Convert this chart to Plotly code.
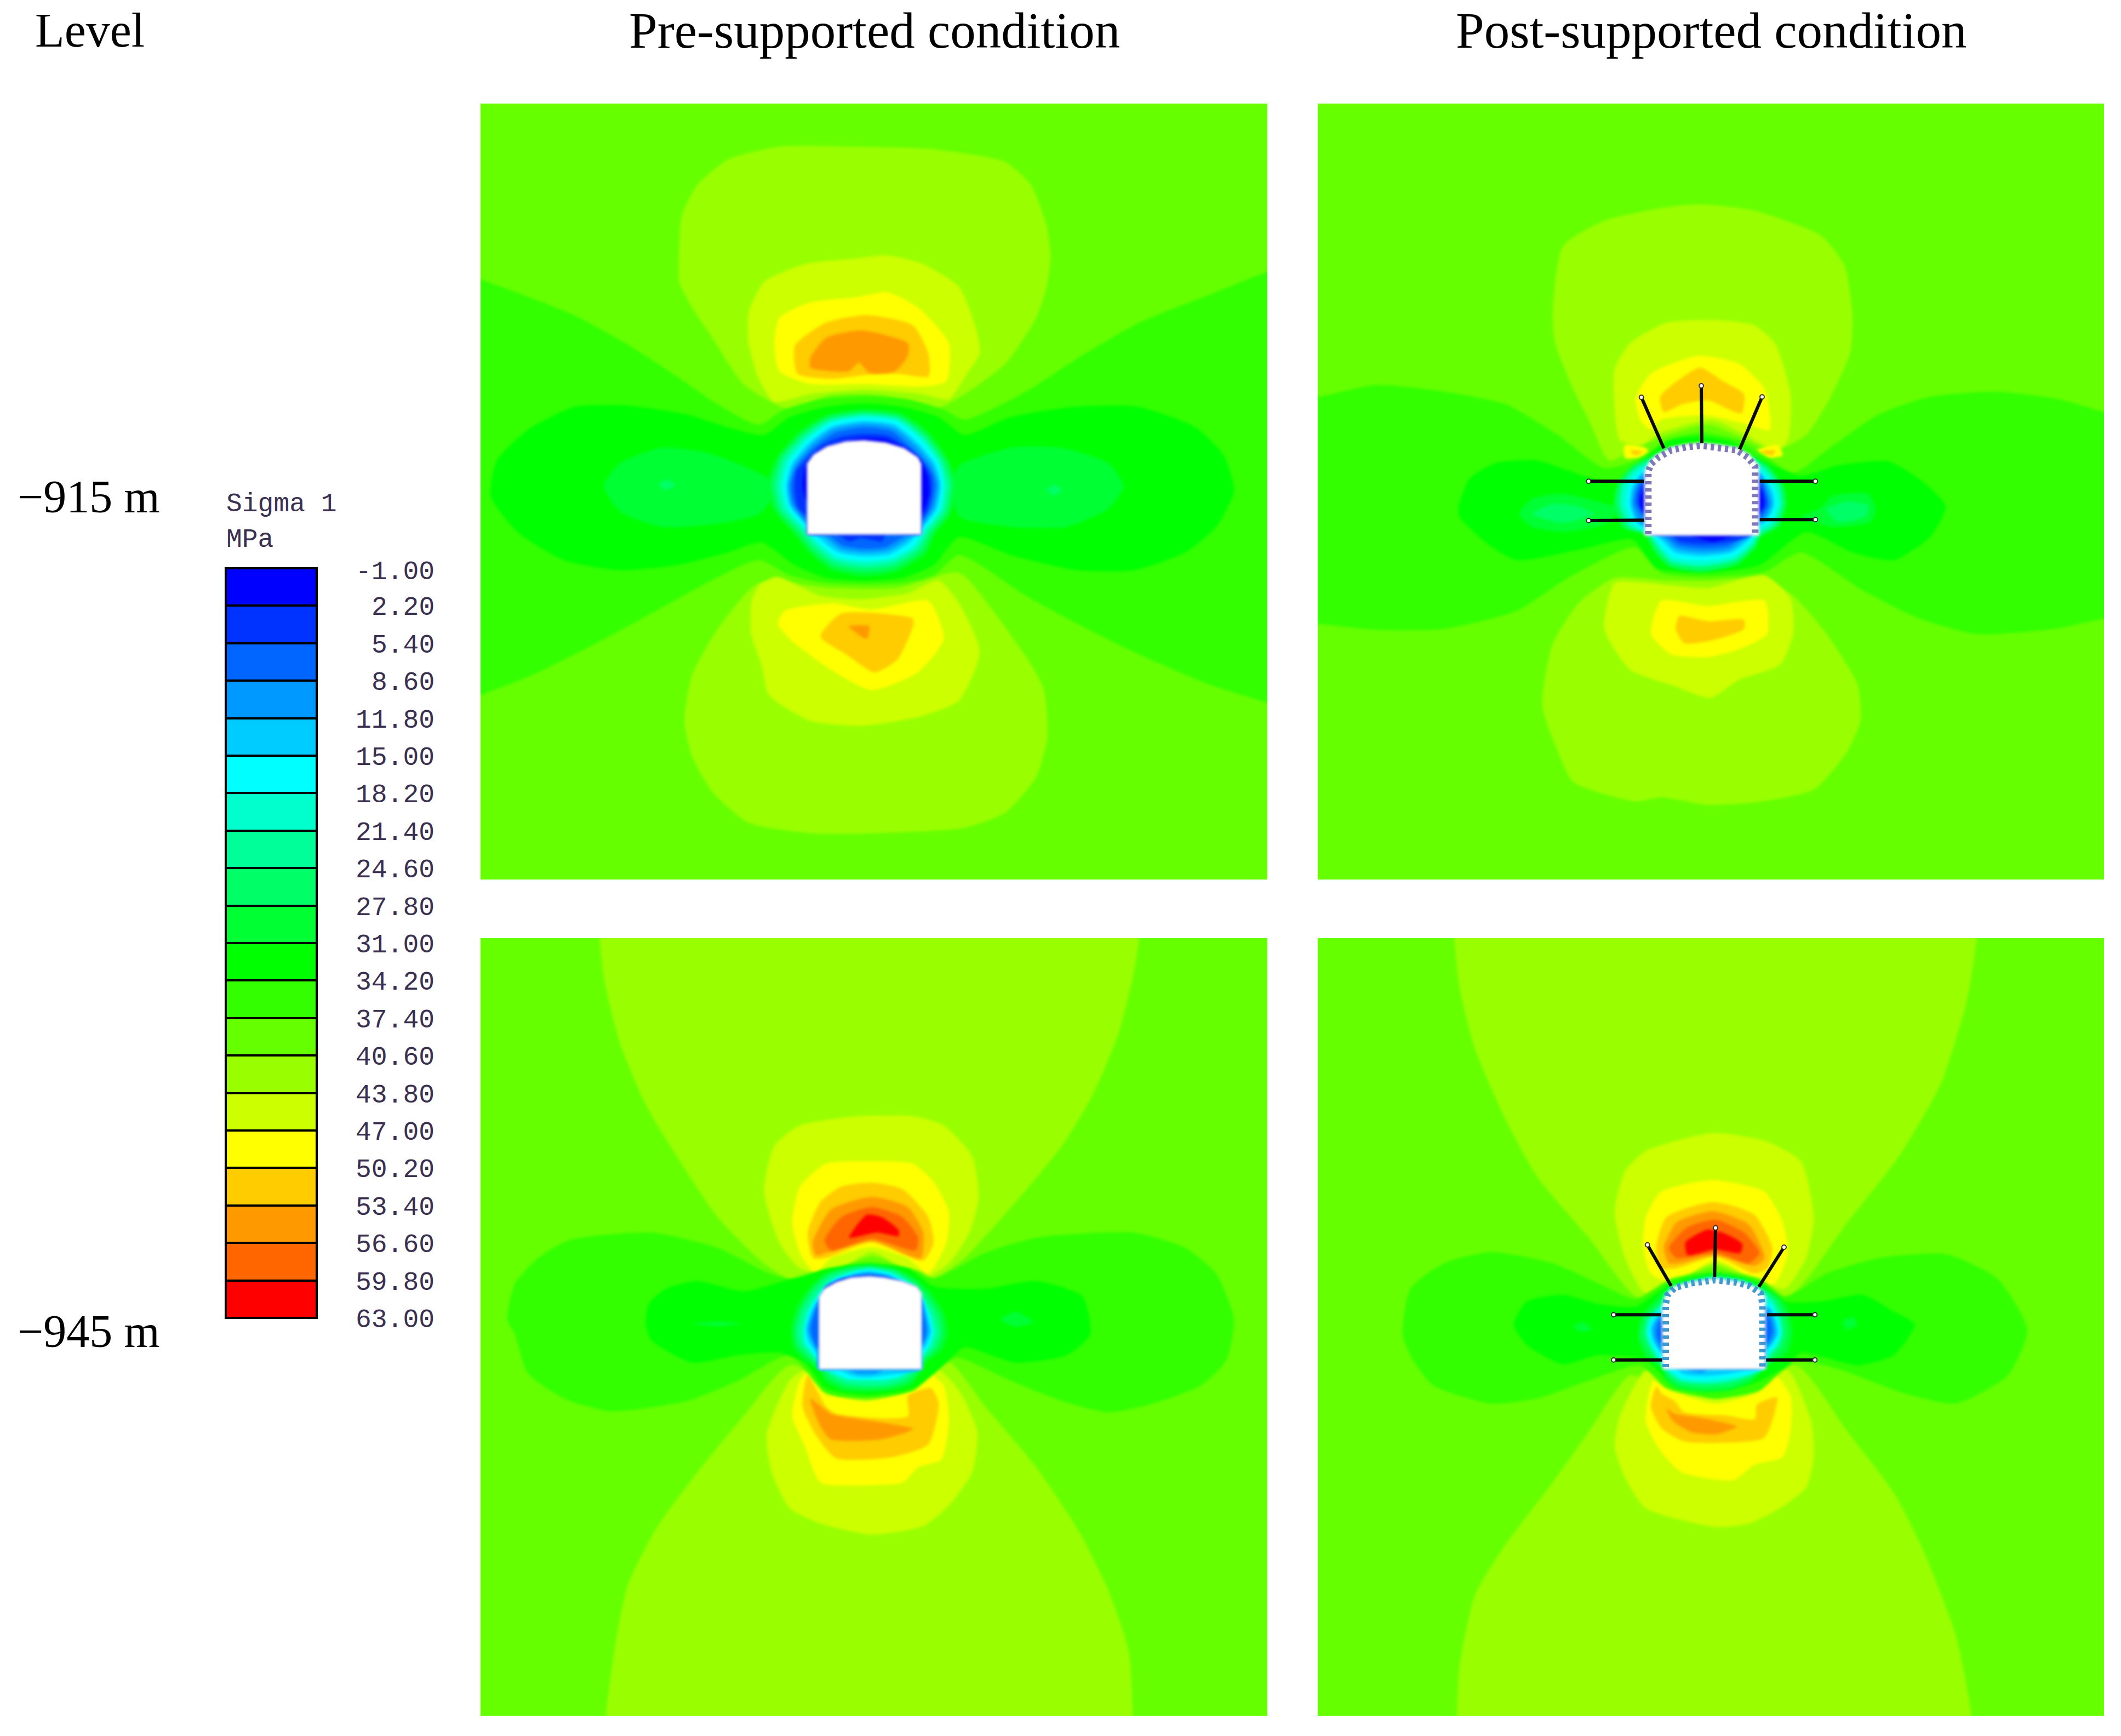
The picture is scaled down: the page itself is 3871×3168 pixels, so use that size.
import plotly.graph_objects as go

W, H = 3871, 3168

# ---- colour scale -----------------------------------------------------------
LEVELS = [-1.0, 2.2, 5.4, 8.6, 11.8, 15.0, 18.2, 21.4, 24.6, 27.8, 31.0, 34.2, 37.4,
          40.6, 43.8, 47.0, 50.2, 53.4, 56.6, 59.8, 63.0]
LEVEL_LABELS = ["-1.00", "2.20", "5.40", "8.60", "11.80", "15.00", "18.20", "21.40", "24.60",
                "27.80", "31.00", "34.20", "37.40", "40.60", "43.80", "47.00", "50.20",
                "53.40", "56.60", "59.80", "63.00"]
BAND_COLORS = ["#0000ff", "#0033ff", "#0066ff", "#0099ff", "#00ccff", "#00ffff", "#00ffcc",
               "#00ff99", "#00ff66", "#00ff33", "#00ff00", "#33ff00", "#66ff00", "#99ff00",
               "#ccff00", "#ffff00", "#ffcc00", "#ff9900", "#ff6600", "#ff0000"]
COLOR_OF = dict(zip(LEVELS[:-1], BAND_COLORS))

COLUMN_TITLES = ["Pre-supported condition", "Post-supported condition"]
ROW_TITLES = ["\u2212915 m", "\u2212945 m"]

# ---- sampling frames of the contour tracings: x0, y0, x-scale, y-scale -------
F1 = (860, 170, 1568 / 1470, 1568 / 1460)
F2 = (2390, 170, 1568 / 1480, 1568 / 1460)
F3 = (860, 1700, 1568 / 1470, 1568 / 1460)
F4 = (2390, 1700, 1568 / 1480, 1568 / 1460)
D1 = (1350, 680, 3, 3)
D2 = (2850, 680, 3, 3)
D3 = (1380, 2220, 3, 3)
D4 = (2900, 2200, 3, 3)

# ---- panel 1: -915 m, pre-supported ------------------------------------------
P1_FIELD = [
 (40.6, [(410,240),(440,180),(500,130),(600,105),(750,105),(900,110),(1040,135),(1090,180),(1120,260),(1128,320),(1120,380),(1100,440),(1040,530),(960,590),(900,620),(800,592),(700,592),(620,620),(530,570),(470,480),(430,420),(405,370),(405,300)]),
 (40.6, [(415,1230),(430,1140),(480,1050),(560,960),(700,970),(830,970),(950,940),(1020,1020),(1090,1120),(1115,1170),(1122,1260),(1100,1340),(1040,1410),(960,1440),(800,1450),(660,1450),(540,1430),(470,1370),(430,1300)]),
 (43.8, [(540,430),(570,370),(650,335),(740,325),(810,318),(880,335),(950,380),(985,470),(990,510),(965,550),(930,600),(880,590),(770,581),(660,590),(590,605),(560,560),(540,490)]),
 (43.8, [(545,1000),(560,965),(595,948),(680,985),(760,992),(850,980),(910,955),(950,1000),(990,1095),(950,1190),(880,1220),(760,1240),(660,1230),(580,1180),(565,1120),(545,1060)]),
 (47.0, [(590,490),(600,440),(660,410),(750,400),(810,390),(870,420),(930,490),(925,565),(880,575),(770,570),(660,570),(600,545)]),
 (47.0, [(597,1040),(610,1015),(700,1000),(780,1012),(890,995),(920,1070),(870,1135),(780,1170),(700,1130),(620,1070)]),
 (50.2, [(630,495),(690,450),(770,435),(860,455),(890,510),(890,555),(830,550),(770,552),(700,560),(635,550)]),
 (50.2, [(680,1065),(720,1020),(860,1030),(860,1045),(830,1110),(785,1135),(730,1100)]),
 (53.4, [(660,520),(690,480),(760,465),(850,490),(850,515),(825,545),(775,548),(755,528),(735,545),(700,545),(660,538)]),
 (53.4, [(735,1045),(775,1045),(770,1070)]),
 (34.2, [(-40,345),(18,365),(100,395),(200,435),(300,490),(400,555),(480,610),(560,650),(610,620),(680,600),(765,594),(850,600),(920,620),(960,640),(1080,585),(1180,520),(1300,450),(1450,390),(1550,350),(1600,335),(1600,1215),(1550,1195),(1440,1160),(1300,1100),(1180,1040),(1080,985),(950,905),(900,945),(840,960),(765,963),(690,960),(620,945),(560,915),(440,970),(350,1020),(240,1080),(120,1140),(18,1180),(-40,1205)]),
 (31.0, [(38,790),(50,720),(110,660),(200,615),(300,612),(420,630),(500,655),(570,670),(620,635),(690,615),(765,608),(840,615),(910,635),(960,670),(1050,635),(1170,615),(1300,615),(1410,655),(1465,710),(1485,780),(1450,850),(1390,900),(1290,935),(1180,935),(1050,905),(950,870),(900,925),(840,950),(765,956),(690,950),(630,925),(565,880),(500,900),(400,925),(290,935),(180,915),(90,860)]),
 (27.8, [(258,770),(290,725),(370,695),(460,705),(540,735),(600,770),(560,825),(470,845),(370,850),(290,820)]),
 (27.8, [(1270,770),(1240,725),(1150,695),(1050,695),(950,730),(935,770),(950,830),(1050,850),(1160,850),(1240,815)]),
 (24.6, [(365,768),(380,758),(398,768),(380,778)]),
 (24.6, [(1120,778),(1135,768),(1150,778),(1135,788)]),
]
P1_RINGS = [
 (27.8, [(680,200),(880,220),(1035,325),(1140,470),(1190,610),(1155,775),(1070,885),(1020,990),(860,1090),(680,1115),(500,1080),(380,985),(300,885),(190,760),(150,620),(205,460),(335,315),(480,230)]),
 (24.6, [(680,215),(875,235),(1020,335),(1125,475),(1170,610),(1140,768),(1055,878),(1003,978),(852,1070),(680,1092),(508,1060),(392,970),(315,875),(208,755),(172,620),(220,465),(345,328),(485,242)]),
 (21.4, [(680,225),(870,245),(1010,345),(1110,480),(1150,610),(1125,760),(1040,870),(985,965),(845,1050),(680,1070),(515,1040),(405,955),(330,865),(225,750),(195,620),(235,470),(355,340),(490,255)]),
 (18.2, [(680,235),(865,255),(1000,355),(1097,485),(1132,610),(1110,755),(1025,865),(968,958),(838,1032),(680,1050),(522,1022),(418,942),(345,858),(245,745),(215,620),(252,480),(365,352),(495,265)]),
 (15.0, [(680,245),(860,265),(990,365),(1085,490),(1115,610),(1095,750),(1010,860),(950,950),(830,1015),(680,1030),(530,1005),(430,930),(360,850),(265,740),(238,620),(270,490),(375,365),(500,275)]),
 (11.8, [(680,265),(850,285),(975,385),(1070,500),(1100,610),(1080,745),(1000,850),(930,930),(820,995),(680,1005),(540,985),(445,915),(370,840),(275,730),(255,620),(285,500),(385,380),(505,295)]),
 (8.6, [(680,280),(840,300),(965,400),(1055,510),(1088,610),(1065,740),(995,840),(915,915),(810,975),(680,985),(550,965),(460,895),(368,825),(285,725),(268,620),(298,510),(395,395),(510,310)]),
 (5.4, [(680,300),(830,320),(950,420),(1040,520),(1072,610),(1050,730),(993,825),(900,895),(800,955),(680,965),(560,945),(475,880),(368,810),(298,720),(280,620),(310,520),(400,415),(520,330)]),
 (2.2, [(680,335),(810,345),(930,420),(1000,490),(1048,570),(1050,660),(1030,750),(993,810),(993,885),(800,885),(780,925),(720,915),(660,905),(600,925),(540,890),(370,885),(370,790),(320,740),(300,640),(310,540),(370,470),(460,390),(560,350)]),
 (-1.0, [(680,358),(800,365),(910,415),(985,470),(1030,570),(1040,650),(1015,740),(993,770),(700,700),(370,700),(345,620),(360,520),(420,440),(540,385)]),
]
P1_OPENING = [(370,885),(993,885),(993,500),(975,465),(900,415),(800,385),(680,372),(580,378),(480,405),(405,450),(370,500)]

# ---- panel 2: -915 m, post-supported -----------------------------------------
P2_FIELD = [
 (40.6, [(470,430),(490,300),(570,250),(700,222),(760,218),(860,230),(990,280),(1035,340),(1050,440),(1045,510),(1005,600),(960,670),(900,700),(770,650),(640,690),(580,720),(540,640),(510,580),(475,490)]),
 (40.6, [(450,1200),(470,1080),(520,1000),(590,950),(690,955),(770,956),(870,950),(935,985),(1000,1060),(1060,1160),(1065,1230),(1040,1290),(975,1365),(860,1390),(770,1395),(680,1380),(630,1388),(510,1350),(480,1290)]),
 (43.8, [(590,540),(620,490),(690,450),(790,445),(860,455),(900,490),(930,590),(925,680),(905,700),(880,690),(780,641),(680,665),(640,690),(600,680),(590,620)]),
 (43.8, [(570,1050),(590,960),(650,960),(770,970),(880,945),(930,990),(935,1060),(910,1120),(830,1150),(775,1185),(700,1160),(620,1130)]),
 (47.0, [(630,600),(660,550),(750,515),(830,530),(880,580),(890,660),(850,650),(770,632),(680,640),(660,660),(640,640)]),
 (47.0, [(660,1060),(680,995),(770,1005),(880,995),(885,1060),(830,1090),(770,1105),(700,1100)]),
 (47.0, [(610,690),(650,695),(660,710),(610,715)]),
 (47.0, [(865,700),(905,690),(915,710),(870,715)]),
 (50.2, [(678,595),(710,565),(755,538),(800,565),(840,590),(835,628),(770,602),(720,610),(685,625)]),
 (50.2, [(708,1050),(715,1025),(770,1035),(840,1032),(840,1050),(780,1072),(725,1078)]),
 (50.2, [(620,700),(645,703),(630,710)]),
 (50.2, [(870,703),(900,700),(895,710)]),
 (34.2, [(-40,595),(16,595),(130,572),(260,585),(380,610),(480,670),(570,735),(630,720),(690,680),(760,665),(830,680),(880,710),(935,745),(1000,700),(1100,630),(1200,595),(1330,585),(1450,600),(1536,625),(1590,640),(1590,1025),(1536,1030),(1440,1050),(1290,1060),(1180,1030),(1070,975),(950,900),(880,938),(770,948),(680,940),(630,890),(500,950),(400,1015),(260,1050),(130,1052),(16,1040),(-40,1035)]),
 (31.0, [(288,810),(310,755),(360,725),(440,720),(530,750),(600,765),(664,702),(699,680),(757,673),(819,684),(844,702),(950,750),(1020,730),(1120,722),(1190,765),(1230,810),(1200,870),(1130,915),(1050,900),(960,860),(870,925),(760,940),(670,930),(625,875),(520,895),(400,915),(340,880),(290,830)]),
 (27.8, [(405,825),(430,795),(490,785),(555,800),(600,815),(570,845),(490,860),(430,850)]),
 (27.8, [(985,815),(1010,790),(1080,785),(1095,815),(1085,840),(1010,850),(950,830)]),
 (24.6, [(430,825),(470,805),(520,810),(550,825),(490,842)]),
 (24.6, [(1000,815),(1040,800),(1080,808),(1075,830),(1020,840)]),
]
P2_RINGS = [
 (24.6, [(765,400),(950,410),(1030,450),(1130,510),(1215,620),(1230,720),(1190,840),(1090,900),(1060,960),(960,1050),(765,1090),(590,1060),(510,980),(460,890),(340,850),(290,720),(310,600),(390,510),(490,460),(600,410)]),
 (18.2, [(765,410),(950,420),(1030,470),(1110,520),(1190,620),(1205,720),(1165,830),(1075,885),(1050,940),(950,1025),(765,1060),(600,1035),(530,960),(480,885),(370,840),(320,720),(335,610),(400,530),(490,480),(600,420)]),
 (15.0, [(765,420),(950,430),(1020,490),(1090,530),(1165,630),(1185,720),(1150,810),(1075,860),(1040,920),(940,1005),(765,1030),(610,1010),(540,945),(495,885),(400,830),(355,720),(365,620),(420,545),(490,500),(600,430)]),
 (11.8, [(1075,535),(1150,640),(1165,720),(1130,800),(1060,860),(1020,920),(930,985),(765,1005),(620,985),(555,925),(510,885),(410,820),(375,720),(385,630),(440,550),(700,500)]),
 (8.6, [(1075,545),(1135,650),(1150,720),(1120,790),(1060,845),(1010,905),(920,970),(765,985),(630,965),(570,915),(530,885),(420,810),(388,720),(398,640),(445,560),(700,520)]),
 (5.4, [(1075,560),(1120,660),(1135,720),(1105,780),(1060,830),(1000,890),(910,950),(765,962),(640,945),(580,900),(540,885),(445,790),(400,720),(410,650),(450,580),(700,540)]),
 (2.2, [(1075,590),(1110,660),(1120,720),(1090,770),(1060,810),(1045,885),(1020,900),(900,930),(765,938),(650,925),(600,890),(490,885),(450,770),(420,710),(425,650),(455,600),(700,560)]),
 (-1.0, [(1080,620),(1100,670),(1105,730),(1080,770),(1040,700)]),
 (-1.0, [(455,640),(430,690),(435,740),(455,770),(480,700)]),
 (-1.0, [(700,885),(830,925),(950,885)]),
]
P2_OPENING = [(455,890),(1080,890),(1080,510),(1030,450),(960,412),(860,395),(765,385),(680,393),(600,410),(520,450),(480,490),(455,540)]
P2_LINER = [(475,885),(475,540),(490,500),(530,465),(600,425),(680,408),(765,400),(860,410),(960,425),(1020,465),(1060,515),(1060,540),(1060,885)]
P2_BOLTS = [((437,135),(560,415)),((765,72),(768,385)),((1098,133),(975,420)),((148,595),(450,595)),((148,810),(450,808)),((1390,595),(1085,595)),((1390,805),(1085,805))]

# ---- panel 3: -945 m, pre-supported ------------------------------------------
P3_FIELD = [
 (40.6, [(250,-40),(250,13),(260,100),(290,220),(340,340),(400,440),(480,560),(570,650),(640,690),(780,636),(900,680),(960,640),(1060,530),(1150,420),(1210,320),(1260,200),(1290,80),(1300,13),(1300,-40)]),
 (40.6, [(262,1590),(262,1537),(280,1400),(305,1280),(360,1170),(440,1060),(530,950),(620,850),(770,900),(925,840),(1000,930),(1100,1050),(1180,1170),(1240,1290),(1280,1410),(1288,1537),(1288,1590)]),
 (43.8, [(570,510),(590,420),(640,380),(750,362),(860,362),(920,380),(975,440),(988,520),(970,590),(930,650),(880,680),(780,628),(700,670),(640,660),(600,610)]),
 (43.8, [(575,985),(620,880),(650,860),(700,910),(770,925),(860,900),(910,860),(950,900),(985,980),(975,1060),(930,1125),(880,1165),(780,1182),(680,1160),(620,1130),(585,1060)]),
 (47.0, [(625,570),(640,500),(690,455),(780,450),(860,455),(900,490),(930,550),(925,610),(890,670),(850,640),(780,619),(700,640),(670,670),(640,630)]),
 (47.0, [(625,950),(640,880),(660,860),(700,905),(770,920),(850,900),(890,865),(920,890),(930,960),(915,1035),(870,1050),(840,1080),(780,1085),(680,1080),(650,1010)]),
 (50.2, [(655,590),(680,530),(720,500),(780,492),(840,505),(890,560),(900,610),(880,645),(780,609),(690,640),(665,640)]),
 (50.2, [(645,930),(655,870),(690,930),(710,945),(850,950),(850,910),(895,895),(910,925),(890,1005),(820,1030),(710,1032),(670,985)]),
 (53.4, [(665,610),(700,545),(780,520),(850,540),(880,590),(875,640),(780,606),(690,630),(672,635)]),
 (53.4, [(660,915),(700,945),(720,950),(860,975),(800,995),(700,995),(680,970)]),
 (56.6, [(688,605),(720,560),(780,540),(840,560),(870,600),(865,625),(780,602),(700,625)]),
 (59.8, [(736,600),(770,555),(800,560),(832,585),(832,597),(790,590)]),
 (34.2, [(70,760),(85,690),(130,640),(190,605),(350,590),(480,620),(580,670),(640,685),(680,665),(775,648),(870,665),(900,680),(1000,630),(1100,600),(1290,590),(1390,620),(1450,670),(1485,760),(1470,840),(1420,890),(1310,930),(1240,942),(1150,920),(1050,880),(940,835),(860,900),(770,915),(690,905),(620,830),(520,880),(420,920),(270,940),(180,915),(110,865),(85,790)]),
 (31.0, [(340,770),(345,730),(380,700),(440,685),(530,705),(625,680),(700,660),(775,653),(850,660),(900,695),(1000,700),(1100,685),(1190,715),(1205,790),(1160,830),(1060,845),(960,815),(925,845),(860,895),(770,909),(690,895),(650,845),(600,825),(520,830),(430,845),(350,800)]),
 (27.8, [(430,768),(480,764),(525,768),(480,774)]),
 (27.8, [(1030,760),(1060,745),(1095,765),(1060,775)]),
]
P3_RINGS = [
 (27.8, [(620,262),(770,285),(880,345),(960,420),(1030,530),(1050,640),(1020,730),(930,800),(905,850),(850,920),(740,950),(600,960),(470,950),(380,900),(345,840),(270,790),(205,720),(190,620),(220,500),(290,390),(380,310),(500,275)]),
 (24.6, [(620,272),(760,295),(870,355),(940,430),(1005,530),(1022,640),(995,720),(915,795),(890,850),(830,905),(730,935),(600,942),(480,930),(395,885),(355,835),(285,775),(225,710),(210,620),(240,510),(305,400),(390,320),(500,285)]),
 (21.4, [(620,278),(750,300),(860,365),(925,440),(985,540),(1005,640),(975,715),(905,790),(870,845),(815,890),(720,920),(600,925),(490,912),(410,870),(370,835),(300,765),(240,700),(225,620),(255,515),(320,410),(400,330),(510,295)]),
 (15.0, [(620,288),(740,310),(845,370),(905,440),(950,530),(975,630),(950,710),(905,770),(850,835),(790,875),(700,895),(600,895),(500,890),(425,860),(380,835),(325,770),(265,690),(260,620),(285,520),(345,420),(420,345),(520,305)]),
 (11.8, [(620,300),(730,320),(830,375),(900,445),(935,530),(958,630),(935,700),(905,740),(905,835),(700,870),(600,880),(520,870),(450,835),(340,835),(335,760),(285,680),(272,620),(300,520),(355,430),(430,355),(530,315)]),
 (8.6, [(620,310),(720,328),(815,375),(905,450),(925,540),(945,630),(925,680),(905,720),(905,835),(700,840),(650,860),(560,860),(500,840),(340,835),(335,740),(300,670),(285,620),(315,520),(365,440),(440,365),(535,322)]),
 (5.4, [(620,318),(720,332),(810,370),(880,400),(905,470),(925,580),(928,640),(905,700),(600,700),(340,720),(305,650),(300,600),(320,530),(340,470),(380,400),(450,360),(535,328)]),
 (2.2, [(620,325),(700,332),(790,360),(860,385),(880,400),(700,500),(370,400),(400,370),(470,340),(540,330)]),
]
P3_OPENING = [(345,835),(905,835),(905,420),(880,385),(800,355),(700,335),(620,328),(520,335),(440,360),(375,395),(345,440)]

# ---- panel 4: -945 m, post-supported -----------------------------------------
P4_FIELD = [
 (40.6, [(280,-40),(280,13),(290,110),(320,230),(380,370),(440,480),(540,600),(640,720),(785,655),(920,720),(1040,570),(1140,440),(1220,300),(1270,140),(1290,13),(1290,-40)]),
 (40.6, [(285,1590),(285,1537),(290,1440),(320,1300),(380,1200),(470,1080),(540,980),(620,870),(690,900),(785,925),(940,850),(1040,980),(1130,1100),(1190,1220),(1250,1380),(1280,1537),(1280,1590)]),
 (43.8, [(590,550),(610,470),(650,430),(780,395),(880,410),(950,450),(975,560),(960,640),(920,700),(880,690),(785,650),(690,690),(650,710),(610,640)]),
 (43.8, [(590,1010),(600,950),(650,860),(690,880),(785,915),(880,880),(925,860),(970,960),(975,1030),(960,1090),(910,1130),(850,1160),(785,1167),(650,1130),(610,1070)]),
 (47.0, [(645,620),(650,560),(680,510),(780,487),(880,510),(915,570),(925,630),(900,690),(875,690),(785,644),(700,690),(660,670)]),
 (47.0, [(650,960),(665,880),(700,900),(785,925),(860,905),(900,870),(930,910),(930,980),(915,1030),(860,1045),(820,1075),(720,1060),(680,1020)]),
 (50.2, [(670,620),(690,560),(780,530),(860,555),(895,620),(885,660),(860,670),(785,637),(710,660),(680,660)]),
 (50.2, [(671,891),(660,931),(681,974),(724,999),(787,1002),(879,992),(904,913),(865,927),(861,956),(809,949),(724,942),(706,920),(681,906)]),
 (53.4, [(685,620),(710,570),(780,548),(850,575),(880,640),(860,655),(785,634),(715,650),(695,650)]),
 (53.4, [(689,934),(706,945),(752,952),(826,970),(787,985),(738,981),(703,959)]),
 (56.6, [(695,620),(730,580),(785,565),(840,590),(870,630),(850,650),(785,630),(710,640)]),
 (59.8, [(727,609),(770,584),(801,591),(837,612),(833,630),(784,623),(731,634)]),
 (34.2, [(180,790),(195,700),(260,650),(350,628),(470,650),(560,690),(630,720),(700,680),(785,666),(870,680),(920,715),(1000,670),(1100,640),(1230,632),(1330,680),(1388,780),(1350,870),(1250,925),(1150,905),(1030,860),(940,840),(870,900),(785,915),(690,895),(640,850),(540,880),(440,915),(350,925),(240,890),(200,840)]),
 (31.0, [(395,770),(420,725),(490,712),(560,730),(630,735),(700,690),(785,671),(870,690),(920,725),(990,725),(1070,712),(1130,745),(1170,770),(1130,830),(1060,850),(950,825),(925,850),(860,885),(785,900),(700,885),(650,840),(560,830),(490,848),(420,810)]),
 (27.8, [(510,775),(530,765),(545,780),(525,785)]),
 (27.8, [(1030,765),(1050,755),(1060,770),(1040,780)]),
]
P4_RINGS = [
 (27.8, [(690,375),(850,400),(960,450),(1040,500),(1090,570),(1115,700),(1085,810),(1000,860),(950,900),(900,960),(780,1010),(620,1020),(480,1000),(420,950),(395,890),(310,830),(265,720),(290,600),(370,510),(440,440),(560,400)]),
 (24.6, [(690,385),(850,410),(960,460),(1030,510),(1070,580),(1090,700),(1060,790),(990,850),(950,900),(880,950),(770,990),(620,1000),(490,980),(430,935),(400,885),(330,810),(285,720),(305,610),(380,530),(440,450),(560,410)]),
 (18.2, [(690,395),(850,415),(955,470),(1015,530),(1045,600),(1060,700),(1035,770),(985,830),(950,890),(870,935),(760,965),(620,975),(500,960),(440,920),(410,880),(345,790),(310,700),(325,620),(390,550),(450,460),(560,415)]),
 (15.0, [(990,540),(1030,610),(1048,700),(1025,760),(975,815),(960,890),(860,925),(750,945),(620,955),(510,945),(450,905),(420,885),(350,770),(325,700),(340,630),(395,560),(700,480)]),
 (11.8, [(985,555),(1020,620),(1035,700),(1010,750),(970,800),(960,885),(850,905),(740,925),(620,935),(520,925),(480,895),(400,810),(350,740),(338,680),(350,640),(395,580),(700,500)]),
 (8.6, [(985,570),(1010,630),(1022,700),(1000,745),(965,790),(965,885),(650,895),(620,915),(560,905),(530,890),(400,800),(360,730),(352,680),(365,640),(395,600),(700,520)]),
 (5.4, [(965,590),(990,620),(1005,690),(985,740),(965,760),(900,680)]),
 (5.4, [(395,620),(375,660),(370,710),(395,760),(420,690)]),
]
P4_OPENING = [(405,895),(965,895),(965,500),(930,455),(830,420),(690,400),(560,420),(465,445),(420,490),(400,560)]
P4_LINER = [(420,885),(420,540),(430,490),(470,450),(560,425),(690,408),(800,420),(880,440),(940,480),(950,540),(950,885)]
P4_BOLTS = [((320,215),(450,440)),((693,122),(688,390)),((1068,228),(930,445)),((135,598),(395,598)),((135,845),(400,845)),((1237,598),(975,598)),((1237,845),(970,845))]

PANELS = [
 dict(box=(877,2313,189,1605), field=P1_FIELD, ff=F1, rings=P1_RINGS, rf=D1, opening=P1_OPENING, liner=None, bolts=None, liner_color=None),
 dict(box=(2405,3840,189,1605), field=P2_FIELD, ff=F2, rings=P2_RINGS, rf=D2, opening=P2_OPENING, liner=P2_LINER, bolts=P2_BOLTS, liner_color="#7f78b8"),
 dict(box=(877,2313,1712,3131), field=P3_FIELD, ff=F3, rings=P3_RINGS, rf=D3, opening=P3_OPENING, liner=None, bolts=None, liner_color=None),
 dict(box=(2405,3840,1712,3131), field=P4_FIELD, ff=F4, rings=P4_RINGS, rf=D4, opening=P4_OPENING, liner=P4_LINER, bolts=P4_BOLTS, liner_color="#3f98d0"),
]


def to_px(points, frame):
    x0, y0, sx, sy = frame
    return [x0 + p[0] / sx for p in points], [y0 + p[1] / sy for p in points]


def closed(points):
    return list(points) + [points[0]]


def dom_x(a, b):
    return [a / W, b / W]


def dom_y(top, bottom):
    return [1 - bottom / H, 1 - top / H]


fig = go.Figure()
layout_axes = {}
shapes = []

for i, p in enumerate(PANELS, start=1):
    left, right, top, bottom = p["box"]
    suffix = "" if i == 1 else str(i)
    xa, ya = f"x{suffix}", f"y{suffix}"
    layout_axes[f"xaxis{suffix}"] = dict(domain=dom_x(left, right), range=[left, right], visible=False, anchor=ya)
    layout_axes[f"yaxis{suffix}"] = dict(domain=dom_y(top, bottom), range=[bottom, top], visible=False, anchor=xa)
    # far-field stress band fills the whole panel
    shapes.append(dict(type="rect", xref=f"{xa} domain", yref=f"{ya} domain", x0=0, x1=1, y0=0, y1=1,
                       fillcolor=COLOR_OF[37.4], line=dict(width=0), layer="below"))

    for frame, layers in ((p["ff"], p["field"]), (p["rf"], p["rings"])):
        for level, pts in layers:
            xs, ys = to_px(closed(pts), frame)
            fig.add_trace(go.Scatter(x=xs, y=ys, xaxis=xa, yaxis=ya, mode="lines", fill="toself",
                                     fillcolor=COLOR_OF[level],
                                     line=dict(width=0, shape="spline", smoothing=0.6),
                                     hoverinfo="skip", showlegend=False))

    xs, ys = to_px(closed(p["opening"]), p["rf"])
    fig.add_trace(go.Scatter(x=xs, y=ys, xaxis=xa, yaxis=ya, mode="lines", fill="toself",
                             fillcolor="#ffffff", line=dict(width=2, color="#d9d2e0"),
                             hoverinfo="skip", showlegend=False))

    if p["liner"]:
        xs, ys = to_px(p["liner"], p["rf"])
        fig.add_trace(go.Scatter(x=xs, y=ys, xaxis=xa, yaxis=ya, mode="lines",
                                 line=dict(width=12, color=p["liner_color"], dash="6px,7px"),
                                 hoverinfo="skip", showlegend=False))
        for outer, inner in p["bolts"]:
            xs, ys = to_px([outer, inner], p["rf"])
            fig.add_trace(go.Scatter(x=xs, y=ys, xaxis=xa, yaxis=ya, mode="lines",
                                     line=dict(width=6, color="#0a0a0a"),
                                     hoverinfo="skip", showlegend=False))
            xs, ys = to_px([outer], p["rf"])
            fig.add_trace(go.Scatter(x=xs, y=ys, xaxis=xa, yaxis=ya, mode="markers",
                                     marker=dict(size=8, color="#ffffff", line=dict(width=2, color="#333333")),
                                     hoverinfo="skip", showlegend=False))

# colour key
for k, color in enumerate(BAND_COLORS):
    fig.add_trace(go.Bar(x=[0], y=[LEVELS[k + 1] - LEVELS[k]], base=[LEVELS[k]], width=1,
                         xaxis="x5", yaxis="y5", marker=dict(color=color, line=dict(color="#000000", width=4)),
                         hoverinfo="skip", showlegend=False))
layout_axes["xaxis5"] = dict(domain=dom_x(408, 582), range=[-0.525, 0.525], visible=False, anchor="y5")
layout_axes["yaxis5"] = dict(domain=dom_y(1033, 2409), range=[63.19, -1.19], visible=False, anchor="x5")

annotations = []
SERIF = "Liberation Serif"
MONO = "Liberation Mono"
for txt, cx, cy, anchor, size in [("Level", 62, 55, "left", 88), (COLUMN_TITLES[0], 1596, 55, "center", 93),
                                  (COLUMN_TITLES[1], 3123, 55, "center", 93), (ROW_TITLES[0], 30, 906, "left", 84),
                                  (ROW_TITLES[1], 30, 2429, "left", 84)]:
    annotations.append(dict(text=txt, x=cx / W, y=1 - cy / H, xref="paper", yref="paper", xanchor=anchor,
                            yanchor="middle", showarrow=False, font=dict(family=SERIF, size=size, color="#000000")))
for txt, cy in [("Sigma 1", 920), ("MPa", 985)]:
    annotations.append(dict(text=txt, x=411 / W, y=1 - cy / H, xref="paper", yref="paper", xanchor="left",
                            yanchor="middle", showarrow=False, font=dict(family=MONO, size=48, color="#3a3050")))
for lv, txt in zip(LEVELS, LEVEL_LABELS):
    annotations.append(dict(text=txt, x=795 / W, y=lv, xref="paper", yref="y5", xanchor="right", yanchor="middle",
                            yshift=-7 if lv == LEVELS[0] else -4,
                            showarrow=False, font=dict(family=MONO, size=48, color="#3a3050")))

fig.update_layout(width=W, height=H, margin=dict(l=0, r=0, t=0, b=0), paper_bgcolor="#ffffff",
                  plot_bgcolor="rgba(0,0,0,0)", bargap=0, barmode="overlay", annotations=annotations, shapes=shapes,
                  showlegend=False, **layout_axes)
# the reference is a soft raster: soften the filled contours, and the bolts and liner only slightly
fig.write_html("out.html", config=dict(displayModeBar=False),
               post_script="document.body.style.margin='0';"
                           "document.querySelectorAll('.scatterlayer .trace').forEach(function(t){"
                           "var f=t.querySelector('.js-fill');"
                           "t.style.filter=(f&&f.getAttribute('d'))?'blur(2.5px)':'blur(0.7px)';});")
